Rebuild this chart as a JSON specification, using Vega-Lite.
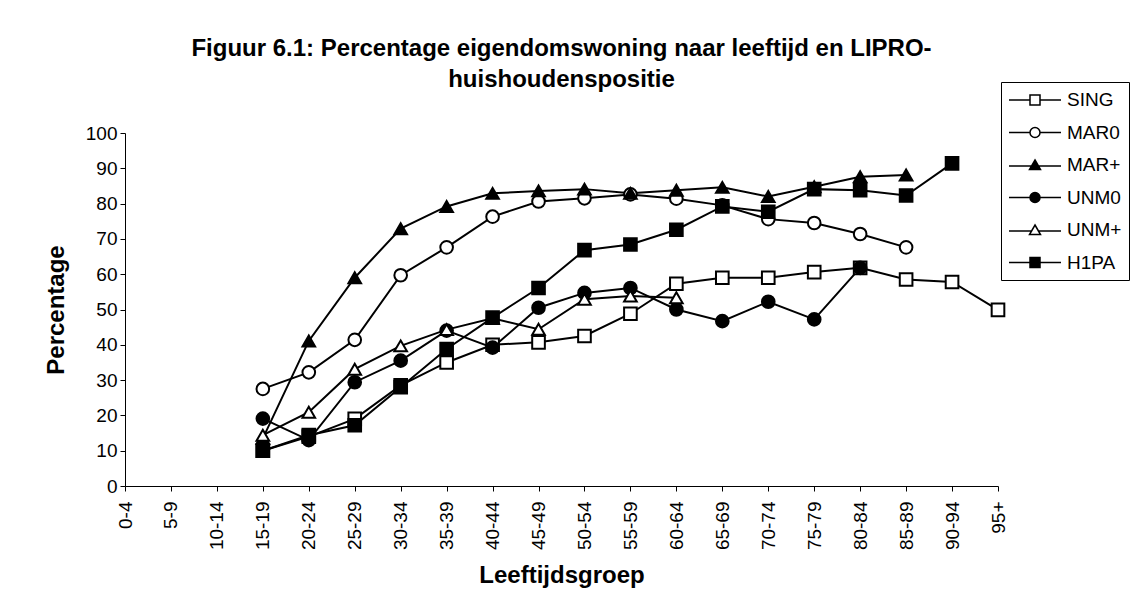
{
  "$schema": "https://vega.github.io/schema/vega-lite/v6.json",
  "width": 873,
  "height": 353,
  "autosize": {"type": "none"},
  "padding": {"left": 125, "top": 133, "right": 149, "bottom": 127},
  "background": "white",
  "title": {
    "text": ["Figuur 6.1: Percentage eigendomswoning naar leeftijd en LIPRO-", "huishoudenspositie"],
    "font": "Liberation Sans",
    "fontSize": 24,
    "fontWeight": "bold",
    "color": "black",
    "anchor": "middle",
    "lineHeight": 31,
    "offset": -10
  },
  "config": {
    "view": {"stroke": null},
    "axis": {
      "domainColor": "black",
      "tickColor": "black",
      "labelColor": "black",
      "titleColor": "black",
      "labelFont": "Liberation Sans",
      "titleFont": "Liberation Sans",
      "labelFontSize": 19,
      "titleFontSize": 24,
      "titleFontWeight": "bold",
      "grid": false,
      "tickSize": 5,
      "domainWidth": 1,
      "tickWidth": 1
    }
  },
  "datasets": {
    "pct": [
      {"age": "15-19", "series": "SING", "value": 10},
      {"age": "20-24", "series": "SING", "value": 14},
      {"age": "25-29", "series": "SING", "value": 19},
      {"age": "30-34", "series": "SING", "value": 28.5},
      {"age": "35-39", "series": "SING", "value": 35},
      {"age": "40-44", "series": "SING", "value": 40},
      {"age": "45-49", "series": "SING", "value": 40.7},
      {"age": "50-54", "series": "SING", "value": 42.5},
      {"age": "55-59", "series": "SING", "value": 48.8},
      {"age": "60-64", "series": "SING", "value": 57.3},
      {"age": "65-69", "series": "SING", "value": 59},
      {"age": "70-74", "series": "SING", "value": 59},
      {"age": "75-79", "series": "SING", "value": 60.6},
      {"age": "80-84", "series": "SING", "value": 61.8},
      {"age": "85-89", "series": "SING", "value": 58.5},
      {"age": "90-94", "series": "SING", "value": 57.8},
      {"age": "95+", "series": "SING", "value": 49.9},
      {"age": "15-19", "series": "MAR0", "value": 27.5},
      {"age": "20-24", "series": "MAR0", "value": 32.2},
      {"age": "25-29", "series": "MAR0", "value": 41.4},
      {"age": "30-34", "series": "MAR0", "value": 59.7},
      {"age": "35-39", "series": "MAR0", "value": 67.6},
      {"age": "40-44", "series": "MAR0", "value": 76.3},
      {"age": "45-49", "series": "MAR0", "value": 80.6},
      {"age": "50-54", "series": "MAR0", "value": 81.5},
      {"age": "55-59", "series": "MAR0", "value": 82.6},
      {"age": "60-64", "series": "MAR0", "value": 81.4},
      {"age": "65-69", "series": "MAR0", "value": 79.5},
      {"age": "70-74", "series": "MAR0", "value": 75.6},
      {"age": "75-79", "series": "MAR0", "value": 74.5},
      {"age": "80-84", "series": "MAR0", "value": 71.4},
      {"age": "85-89", "series": "MAR0", "value": 67.6},
      {"age": "15-19", "series": "MAR+", "value": 13.5},
      {"age": "20-24", "series": "MAR+", "value": 41.1},
      {"age": "25-29", "series": "MAR+", "value": 59},
      {"age": "30-34", "series": "MAR+", "value": 72.9},
      {"age": "35-39", "series": "MAR+", "value": 79.2},
      {"age": "40-44", "series": "MAR+", "value": 82.9},
      {"age": "45-49", "series": "MAR+", "value": 83.6},
      {"age": "50-54", "series": "MAR+", "value": 84.1},
      {"age": "55-59", "series": "MAR+", "value": 82.9},
      {"age": "60-64", "series": "MAR+", "value": 83.8},
      {"age": "65-69", "series": "MAR+", "value": 84.6},
      {"age": "70-74", "series": "MAR+", "value": 82},
      {"age": "75-79", "series": "MAR+", "value": 84.8},
      {"age": "80-84", "series": "MAR+", "value": 87.6},
      {"age": "85-89", "series": "MAR+", "value": 88.1},
      {"age": "15-19", "series": "UNM0", "value": 19.1},
      {"age": "20-24", "series": "UNM0", "value": 13},
      {"age": "25-29", "series": "UNM0", "value": 29.4},
      {"age": "30-34", "series": "UNM0", "value": 35.5},
      {"age": "35-39", "series": "UNM0", "value": 44},
      {"age": "40-44", "series": "UNM0", "value": 39.2},
      {"age": "45-49", "series": "UNM0", "value": 50.5},
      {"age": "50-54", "series": "UNM0", "value": 54.7},
      {"age": "55-59", "series": "UNM0", "value": 56.1},
      {"age": "60-64", "series": "UNM0", "value": 50},
      {"age": "65-69", "series": "UNM0", "value": 46.7},
      {"age": "70-74", "series": "UNM0", "value": 52.2},
      {"age": "75-79", "series": "UNM0", "value": 47.2},
      {"age": "80-84", "series": "UNM0", "value": 61.8},
      {"age": "15-19", "series": "UNM+", "value": 14.4},
      {"age": "20-24", "series": "UNM+", "value": 20.9},
      {"age": "25-29", "series": "UNM+", "value": 33.1},
      {"age": "30-34", "series": "UNM+", "value": 39.7},
      {"age": "35-39", "series": "UNM+", "value": 44.3},
      {"age": "40-44", "series": "UNM+", "value": 47.5},
      {"age": "45-49", "series": "UNM+", "value": 44.4},
      {"age": "50-54", "series": "UNM+", "value": 52.9},
      {"age": "55-59", "series": "UNM+", "value": 53.8},
      {"age": "60-64", "series": "UNM+", "value": 53.3},
      {"age": "15-19", "series": "H1PA", "value": 10},
      {"age": "20-24", "series": "H1PA", "value": 14.4},
      {"age": "25-29", "series": "H1PA", "value": 17.2},
      {"age": "30-34", "series": "H1PA", "value": 28},
      {"age": "35-39", "series": "H1PA", "value": 38.8},
      {"age": "40-44", "series": "H1PA", "value": 47.7},
      {"age": "45-49", "series": "H1PA", "value": 56.1},
      {"age": "50-54", "series": "H1PA", "value": 66.8},
      {"age": "55-59", "series": "H1PA", "value": 68.4},
      {"age": "60-64", "series": "H1PA", "value": 72.6},
      {"age": "65-69", "series": "H1PA", "value": 79.2},
      {"age": "70-74", "series": "H1PA", "value": 77.7},
      {"age": "75-79", "series": "H1PA", "value": 84.1},
      {"age": "80-84", "series": "H1PA", "value": 83.8},
      {"age": "85-89", "series": "H1PA", "value": 82.3},
      {"age": "90-94", "series": "H1PA", "value": 91.4}
    ]
  },
  "data": {"name": "pct"},
  "encoding": {
    "x": {
      "field": "age",
      "type": "ordinal",
      "scale": {
        "type": "point",
        "padding": 0,
        "domain": ["0-4", "5-9", "10-14", "15-19", "20-24", "25-29", "30-34", "35-39", "40-44", "45-49", "50-54", "55-59", "60-64", "65-69", "70-74", "75-79", "80-84", "85-89", "90-94", "95+"]
      },
      "axis": {
        "title": "Leeftijdsgroep",
        "labelAngle": -90,
        "labelPadding": 10,
        "titlePadding": 14
      }
    },
    "y": {
      "field": "value",
      "type": "quantitative",
      "scale": {"domain": [0, 100], "nice": false, "zero": true},
      "axis": {
        "title": "Percentage",
        "values": [0, 10, 20, 30, 40, 50, 60, 70, 80, 90, 100],
        "labelPadding": 3,
        "titlePadding": 17
      }
    }
  },
  "layer": [
    {
      "mark": {"type": "line", "color": "black", "strokeWidth": 2},
      "encoding": {"detail": {"field": "series"}}
    },
    {
      "mark": {"type": "point", "filled": true, "stroke": "black", "strokeWidth": 2, "size": 160, "opacity": 1},
      "encoding": {
        "shape": {
          "field": "series",
          "scale": {
            "domain": ["SING", "MAR0", "MAR+", "UNM0", "UNM+", "H1PA"],
            "range": ["square", "circle", "triangle-up", "circle", "triangle-up", "square"]
          },
          "legend": null
        },
        "fill": {
          "field": "series",
          "scale": {
            "domain": ["SING", "MAR0", "MAR+", "UNM0", "UNM+", "H1PA"],
            "range": ["white", "white", "black", "black", "white", "black"]
          },
          "legend": null
        }
      }
    },
    {
      "transform": [{"filter": "false"}],
      "mark": {"type": "point", "filled": true, "stroke": "black", "strokeWidth": 2, "opacity": 1},
      "encoding": {
        "shape": {
          "field": "series",
          "scale": {
            "domain": ["SING", "MAR0", "MAR+", "UNM0", "UNM+", "H1PA"],
            "range": [
              "M-2.6,0H-0.5M0.5,0H2.6M-0.5,-0.5H0.5V0.5H-0.5Z",
              "M-2.6,0H-0.5M0.5,0H2.6M-0.5,0A0.5,0.5 0 1,0 0.5,0A0.5,0.5 0 1,0 -0.5,0Z",
              "M-2.6,0.1H-0.28M0.28,0.1H2.6M0,-0.5L0.55,0.45H-0.55Z",
              "M-2.6,0H-0.5M0.5,0H2.6M-0.5,0A0.5,0.5 0 1,0 0.5,0A0.5,0.5 0 1,0 -0.5,0Z",
              "M-2.6,0.1H-0.28M0.28,0.1H2.6M0,-0.5L0.55,0.45H-0.55Z",
              "M-2.6,0H-0.5M0.5,0H2.6M-0.5,-0.5H0.5V0.5H-0.5Z"
            ]
          },
          "legend": {
            "title": null,
            "orient": "none",
            "legendX": 876,
            "legendY": -51,
            "padding": 7,
            "symbolOffset": 16,
            "symbolSize": 400,
            "labelOffset": 21,
            "labelFont": "Liberation Sans",
            "labelFontSize": 19,
            "labelColor": "black",
            "rowPadding": 11.5,
            "strokeColor": "black",
            "fillColor": "white",
            "encode": {
              "symbols": {
                "update": {
                  "stroke": {"value": "black"},
                  "strokeWidth": {"value": 2},
                  "opacity": {"value": 1}
                }
              }
            }
          }
        },
        "fill": {
          "field": "series",
          "scale": {
            "domain": ["SING", "MAR0", "MAR+", "UNM0", "UNM+", "H1PA"],
            "range": ["white", "white", "black", "black", "white", "black"]
          }
        }
      }
    }
  ],
  "resolve": {"scale": {"shape": "independent", "fill": "independent"}}
}
